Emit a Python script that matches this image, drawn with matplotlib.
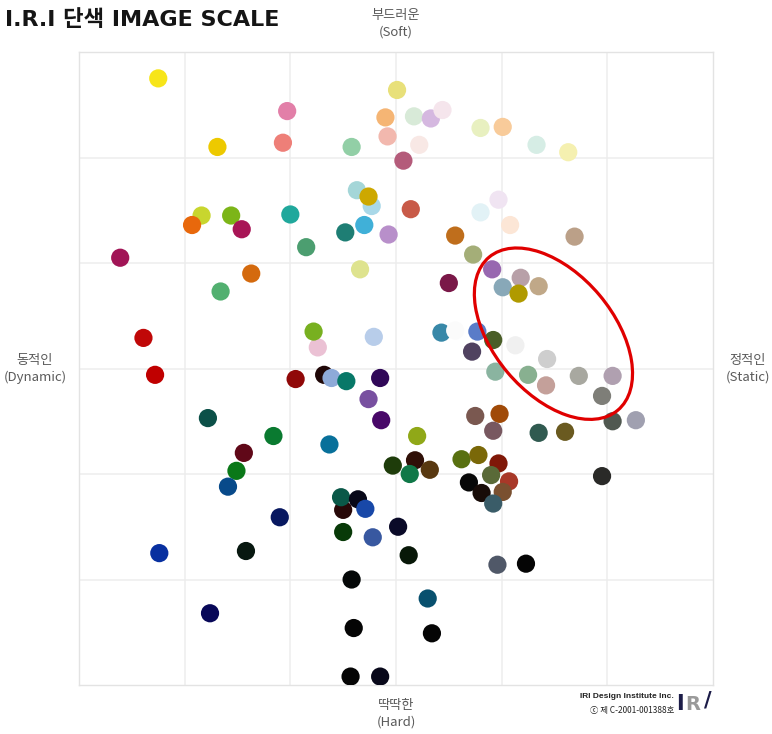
import matplotlib.pyplot as plt
from matplotlib.patches import Ellipse

plt.rcParams['font.family'] = ['Noto Sans CJK KR', 'DejaVu Sans']

# positions on the soft/hard (y) and dynamic/static (x) scale, -3 .. 3
xs = [-2.25, -1.03, -1.69, -1.07, -0.42, 0.01, -0.10, -0.08, 0.07, -0.37,
      -0.23, -0.26, -1.84, -1.93, -1.56, -1.46, -1.00, -0.30, -0.48, -0.07,
      -0.85, -2.61, -1.37, -0.34, -1.66, -2.39, -0.74, -0.78, -0.21, -2.28,
      0.17, 0.33, 0.44, 0.80, 1.01, 1.33, 1.63, 0.22, 0.14, 0.97,
      0.80, 1.08, 0.56, 1.69, 0.73, 0.91, 1.18, 1.35, 1.01, 1.16,
      0.50, 0.43, 0.77, 0.92, 0.72, 1.13, 1.43, 0.56, 0.94, 1.25,
      1.42, 1.73, 2.05, 1.95, 0.75, 0.98, 0.92, 1.35, 1.60, 2.05,
      2.27, 0.20, -0.03, 0.18, 0.13, 0.32, 0.62, 0.78, 0.97, 0.90,
      1.07, 1.01, 0.69, 0.81, 0.92, 1.95, 0.02, 0.12, 0.96, 1.23,
      0.30, 0.34, -0.95, -0.68, -0.61, -0.47, -0.15, -0.26, -0.14, -1.78,
      -1.16, -1.44, -1.51, -1.59, -0.63, -0.50, -0.52, -0.36, -0.29, -1.10,
      -0.50, -0.22, -2.24, -1.42, -0.42, -1.76, -0.40, -0.43, -0.15]
ys = [2.75, 2.44, 2.10, 2.14, 2.10, 2.64, 2.38, 2.20, 1.97, 1.69,
      1.54, 1.63, 1.45, 1.36, 1.45, 1.32, 1.46, 1.36, 1.29, 1.27,
      1.15, 1.05, 0.90, 0.94, 0.73, 0.29, 0.20, 0.35, 0.30, -0.06,
      2.39, 2.37, 2.45, 2.28, 2.29, 2.12, 2.05, 2.12, 1.51, 1.60,
      1.48, 1.36, 1.26, 1.25, 1.08, 0.94, 0.86, 0.78, 0.77, 0.71,
      0.81, 0.34, 0.35, 0.27, 0.16, 0.22, 0.09, 0.36, -0.03, -0.06,
      -0.16, -0.07, -0.07, -0.26, -0.45, -0.43, -0.59, -0.61, -0.60, -0.50,
      -0.49, -0.64, -0.92, -0.87, -1.00, -0.96, -0.86, -0.82, -0.90, -1.01,
      -1.07, -1.17, -1.08, -1.18, -1.28, -1.02, -1.50, -1.77, -1.86, -1.85,
      -2.18, -2.51, -0.10, -0.06, -0.09, -0.12, -0.09, -0.29, -0.49, -0.47,
      -0.64, -0.80, -0.97, -1.12, -0.72, -1.34, -1.22, -1.24, -1.33, -1.41,
      -1.55, -1.60, -1.75, -1.73, -2.00, -2.32, -2.46, -2.92, -2.92]
colors = ['#F7E51A', '#E27FA8', '#EDC900', '#EE7F78', '#92CFA6', '#E8E07A', '#F5B574', '#F2B8AE', '#B45B7A', '#A4D6D8',
          '#A9D8E8', '#CDA800', '#C8D62E', '#E8680C', '#7CB518', '#A81556', '#20A89C', '#40B0D8', '#1E7E74', '#B88FCA',
          '#4C9E70', '#A11456', '#D46A0E', '#DEE38E', '#52B070', '#C00808', '#EBC1D4', '#78B020', '#B8CDEA', '#C00000',
          '#D8EAD8', '#D5B8E0', '#F5E5EC', '#E8F0C0', '#F8CB9A', '#D6EDE5', '#F5F0B0', '#F8E8E5', '#C85A48', '#F0E4F2',
          '#E2F2F6', '#FCE6D6', '#BF6E1C', '#BBA088', '#A4AE78', '#9868B0', '#B8A0A8', '#C0A888', '#88A8B8', '#B09A00',
          '#7A1848', '#3888A8', '#5A7CC8', '#4A5E28', '#504260', '#F0F0F0', '#CECECE', '#FBFBFB', '#8AB4A0', '#88B090',
          '#C4A09A', '#A8A8A0', '#B0A0B0', '#7E7E78', '#7A5850', '#A04A08', '#785860', '#305A50', '#6A5A20', '#505850',
          '#A0A0B0', '#90A818', '#1E3C0A', '#301008', '#107848', '#583810', '#587010', '#7A6808', '#801808', '#5A6A38',
          '#A83828', '#7A5030', '#080808', '#180C08', '#3A5C68', '#2A2A28', '#0A0A28', '#081808', '#505868', '#050505',
          '#08506E', '#050505', '#900808', '#200808', '#8EAAD8', '#087868', '#300858', '#7850A0', '#480868', '#0C5048',
          '#0A7A30', '#600818', '#0A7818', '#084A8A', '#08709A', '#280808', '#0A5848', '#080818', '#1848A8', '#081860',
          '#083A08', '#3858A0', '#0830A0', '#081810', '#050808', '#080858', '#050505', '#050505', '#08081A']

title = 'I.R.I 단색 IMAGE SCALE'
top_label = '부드러운\n(Soft)'
bottom_label = '딱딱한\n(Hard)'
left_label = '동적인\n(Dynamic)'
right_label = '정적인\n(Static)'

fig = plt.figure(figsize=(7.72, 7.34), dpi=100)
ax = fig.add_axes([79 / 772, 1 - 685 / 734, 634 / 772, 633 / 734])

ax.scatter(xs, ys, s=172, c=colors, linewidths=0, zorder=3)

# highlighted group of static / soft-grey colours
ax.add_patch(Ellipse((1.49, 0.33), 2 * 100 / 105.6, 2 * 60 / 105.5, angle=-50,
                     fill=False, edgecolor='#E00000', linewidth=2.3, zorder=4))

ax.set_xlim(-3, 3)
ax.set_ylim(-3, 3)
ax.set_xticks([-2, -1, 0, 1, 2])
ax.set_yticks([-2, -1, 0, 1, 2])
ax.tick_params(length=0, labelbottom=False, labelleft=False)
ax.grid(True, color='#EDEDED', linewidth=1.1, zorder=0)
ax.set_axisbelow(True)
for sp in ax.spines.values():
    sp.set_color('#E3E3E3')
    sp.set_linewidth(1.0)

label_kw = dict(fontsize=9.5, color='#5A5A5A', ha='center', va='center', linespacing=1.35)
fig.text(396 / 772, 1 - 24 / 734, top_label, **label_kw)
fig.text(396 / 772, 1 - 714 / 734, bottom_label, **label_kw)
fig.text(35 / 772, 1 - 369 / 734, left_label, **label_kw)
fig.text(748 / 772, 1 - 369 / 734, right_label, **label_kw)

fig.text(5 / 772, 1 - 20 / 734, title, fontsize=16, fontweight='bold', color='#151515',
         ha='left', va='center', family=['DejaVu Sans', 'Noto Sans CJK KR'])

fig.text(674 / 772, 1 - 697 / 734, 'IRI Design Institute Inc.', fontsize=6.0,
         fontweight='bold', color='#222222', ha='right', va='center',
         family=['Liberation Sans', 'DejaVu Sans'])
fig.text(674 / 772, 1 - 711 / 734, 'ⓒ 제 C-2001-001388호', fontsize=6.0,
         color='#222222', ha='right', va='center')
fig.text(676 / 772, 1 - 704 / 734, 'I', fontsize=15, fontweight='heavy', color='#1C1C48',
         ha='left', va='center', family=['DejaVu Sans'])
fig.text(685 / 772, 1 - 705 / 734, 'R', fontsize=14, fontweight='heavy', color='#9A9A9A',
         ha='left', va='center', family=['DejaVu Sans'])
fig.text(712 / 772, 1 - 700 / 734, '/', fontsize=15, fontweight='heavy', color='#1C1C48',
         ha='right', va='center', family=['DejaVu Sans'])

fig.savefig('out.png', dpi=100, facecolor='white')
